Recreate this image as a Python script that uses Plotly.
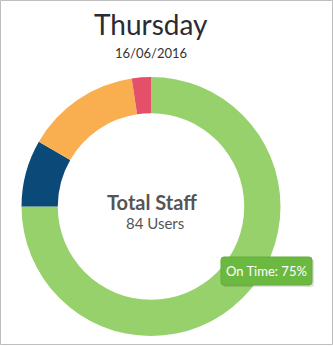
import plotly.graph_objects as go

W, H = 333, 346

categories = ["On Time", "Late", "Absent", "Sick"]
values = [63, 7, 12, 2]
colors = ["#97D16B", "#0B4A78", "#F9AF50", "#E4506A"]

title_text = "Thursday"
date_text = "16/06/2016"
center_title = "Total Staff"
center_sub = "84 Users"
tooltip_text = "On Time: 75%"

def px_x(x):
    return x / W

def px_y(y):
    return 1 - y / H

def rounded_rect(x0, y0, x1, y1, r):
    X = lambda v: px_x(v)
    Y = lambda v: px_y(v)
    return (f"M {X(x0+r)},{Y(y0)} L {X(x1-r)},{Y(y0)} Q {X(x1)},{Y(y0)} {X(x1)},{Y(y0+r)} "
            f"L {X(x1)},{Y(y1-r)} Q {X(x1)},{Y(y1)} {X(x1-r)},{Y(y1)} "
            f"L {X(x0+r)},{Y(y1)} Q {X(x0)},{Y(y1)} {X(x0)},{Y(y1-r)} "
            f"L {X(x0)},{Y(y0+r)} Q {X(x0)},{Y(y0)} {X(x0+r)},{Y(y0)} Z")

fig = go.Figure(
    go.Pie(
        labels=categories,
        values=values,
        marker=dict(colors=colors, line=dict(width=0)),
        hole=0.72,
        sort=False,
        direction="clockwise",
        rotation=0,
        textinfo="none",
        hoverinfo="none",
        showlegend=False,
        domain=dict(x=[px_x(21.5), px_x(280.5)], y=[px_y(336), px_y(77)]),
    )
)

fig.update_layout(
    width=W,
    height=H,
    margin=dict(l=0, r=0, t=0, b=0),
    paper_bgcolor="white",
    plot_bgcolor="white",
    font=dict(family="Lato, Open Sans, sans-serif", color="#333333"),
    shapes=[
        dict(type="rect", xref="paper", yref="paper",
             x0=px_x(0.5), x1=px_x(332.5), y0=px_y(344.5), y1=px_y(0.5),
             line=dict(color="#BDBDBD", width=1), fillcolor="rgba(0,0,0,0)"),
        dict(type="path", xref="paper", yref="paper",
             path=rounded_rect(223, 259, 314, 287, 3),
             fillcolor="rgba(0,0,0,0.12)", line=dict(width=0)),
        dict(type="path", xref="paper", yref="paper",
             path=rounded_rect(221, 257, 312, 285, 3),
             fillcolor="#6CB941", line=dict(color="#62AD3A", width=1)),
    ],
    annotations=[
        dict(text=title_text, x=px_x(151), y=px_y(24), xref="paper", yref="paper",
             showarrow=False, xanchor="center", yanchor="middle",
             font=dict(size=28, color="#2b2b33", family="Lato, sans-serif")),
        dict(text=date_text, x=px_x(151), y=px_y(53), xref="paper", yref="paper",
             showarrow=False, xanchor="center", yanchor="middle",
             font=dict(size=13, color="#333333", family="Lato, sans-serif")),
        dict(text="<b>" + center_title + "</b>", x=px_x(152), y=px_y(202), xref="paper", yref="paper",
             showarrow=False, xanchor="center", yanchor="middle",
             font=dict(size=20, color="#555555", family="Lato, sans-serif")),
        dict(text=center_sub, x=px_x(155), y=px_y(223), xref="paper", yref="paper",
             showarrow=False, xanchor="center", yanchor="middle",
             font=dict(size=15, color="#555555", family="Lato, sans-serif")),
        dict(text=tooltip_text, x=px_x(266.5), y=px_y(271), xref="paper", yref="paper",
             showarrow=False, xanchor="center", yanchor="middle",
             font=dict(size=13, color="white", family="Lato, sans-serif")),
    ],
)

fig.write_html("out.html")
